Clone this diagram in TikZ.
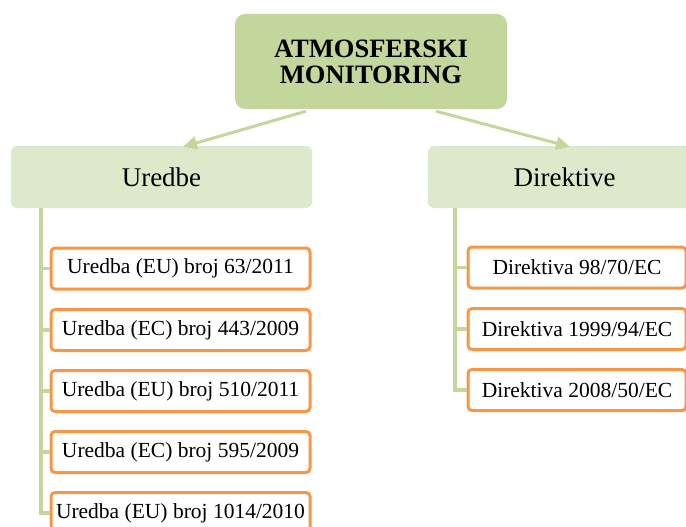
\documentclass[tikz,border=0pt]{standalone}
\usepackage{fontspec}
\setmainfont{Liberation Serif}
\usepackage{tikz}
\usetikzlibrary{arrows.meta,calc}

\begin{document}
\begin{tikzpicture}[x=1pt,y=1pt,yscale=-1,xscale=1,
  topbox/.style={fill={rgb, 255:red, 195; green, 214; blue, 155 },rounded corners=10pt,
    minimum width=272pt,minimum height=95pt,inner sep=0pt,align=center,
    font=\fontsize{26.5}{26}\selectfont\bfseries},
  headbox/.style={fill={rgb, 255:red, 222; green, 233; blue, 204 },rounded corners=6pt,
    minimum height=62pt,inner sep=0pt,font=\fontsize{27}{32}\selectfont},
  itembox/.style={draw={rgb, 255:red, 247; green, 150; blue, 70 },fill=white,line width=3pt,
    rounded corners=4pt,minimum height=41pt,inner sep=0pt,font=\fontsize{21.5}{25}\selectfont},
  link/.style={color={rgb, 255:red, 195; green, 214; blue, 155 },line width=3pt,
    -{Triangle[length=14pt,width=13pt]}},
  tree/.style={color={rgb, 255:red, 195; green, 214; blue, 155 },line width=3.5pt}]
\useasboundingbox (0,0) rectangle (686,527);
\clip (0,0) rectangle (686,527);

%Top box
\node[topbox] (atm) at (371,61.5) {ATMOSFERSKI\\MONITORING};

%Headers
\node[headbox,minimum width=301pt] (uredbe) at (161.5,177) {Uredbe};
\node[headbox,minimum width=273pt] (direktive) at (564.5,177) {Direktive};

%Arrows
\draw[link] ($(atm.south)+(-65,2)$) -- ($(uredbe.north)+(21.5,1)$);
\draw[link] ($(atm.south)+(65,2)$) -- ($(direktive.north)+(5.5,1)$);

%Uredbe list
\node[itembox,minimum width=259pt] (u1) at (180.5,268.5) {Uredba (EU) broj 63/2011};
\node[itembox,minimum width=259pt] (u2) at (180.5,330) {Uredba (EC) broj 443/2009};
\node[itembox,minimum width=259pt] (u3) at (180.5,391) {Uredba (EU) broj 510/2011};
\node[itembox,minimum width=259pt] (u4) at (180.5,452) {Uredba (EC) broj 595/2009};
\node[itembox,minimum width=259pt] (u5) at (180.5,513) {Uredba (EU) broj 1014/2010};
\coordinate (uroot) at ($(uredbe.south west)+(30,0)$);
\foreach \i in {1,...,5} \draw[tree] (uroot) |- (u\i.west);

%Direktive list
\node[itembox,minimum width=218pt] (d1) at (577,267.5) {Direktiva 98/70/EC};
\node[itembox,minimum width=218pt] (d2) at (577,329) {Direktiva 1999/94/EC};
\node[itembox,minimum width=218pt] (d3) at (577,390) {Direktiva 2008/50/EC};
\coordinate (droot) at ($(direktive.south west)+(27,0)$);
\foreach \i in {1,...,3} \draw[tree] (droot) |- (d\i.west);
\end{tikzpicture}
\end{document}
